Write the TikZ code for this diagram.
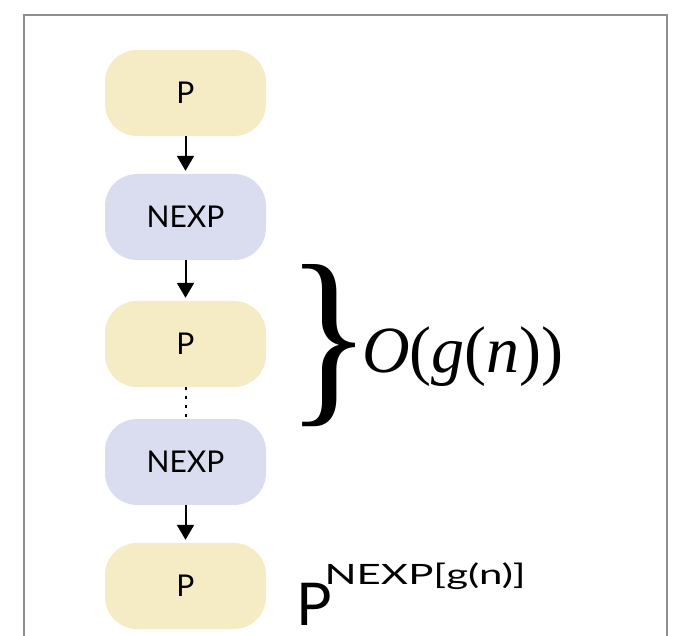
\documentclass[tikz,border=0pt]{standalone}
\usepackage{fontspec}
\setmainfont{Lato}
\newfontfamily\tmsfont{Liberation Serif}
\usetikzlibrary{arrows.meta}
\definecolor{pfill}{HTML}{F5EBC4}
\definecolor{nfill}{HTML}{DADDF0}
\definecolor{framegray}{HTML}{8C8E92}
\tikzset{
  pbox/.style={fill=pfill, draw=none, rounded corners=32pt, minimum width=161pt, minimum height=86pt, font=\fontsize{30}{32}\selectfont, inner sep=0pt},
  nbox/.style={pbox, fill=nfill},
  conn/.style={line width=2pt, -{Triangle[width=17pt,length=15pt]}, shorten >=3pt},
  dots/.style={line width=2pt, dash pattern=on 3pt off 6pt}
}
\begin{document}
\begin{tikzpicture}[x=1pt,y=-1pt]
\useasboundingbox (0,0) rectangle (681,636);
\draw[framegray, line width=2.5pt] (24,636) -- (24,15) -- (667,15) -- (667,636);
\node[pbox] (p1) at (185.5,93) {P};
\node[nbox] (n1) at (185.5,217) {NEXP};
\node[pbox] (p2) at (185.5,344) {P};
\node[nbox] (n2) at (185.5,462) {NEXP};
\node[pbox] (p3) at (185.5,586) {P};
\draw[conn] (p1) -- (n1);
\draw[conn] (n1) -- (p2);
\draw[dots] (p2.south) -- (n2.north);
\draw[conn] (n2) -- (p3);
\node[inner sep=0pt, anchor=center] (br) at (329,346) {\resizebox{85pt}{136pt}{\tmsfont\}}};
\node[inner sep=0pt, anchor=base west] (og) at (362,373) {\tmsfont\fontsize{66}{70}\selectfont\itshape O\upshape(\itshape g\upshape(\itshape n\upshape))};
\node[inner sep=0pt, anchor=base west] (lab) at (296,626) {\fontsize{59}{62}\selectfont P\kern-7pt\raisebox{41pt}{\scalebox{1.5}[1]{\fontsize{28}{30}\selectfont NEXP[g(n)]}}};
\end{tikzpicture}
\end{document}
